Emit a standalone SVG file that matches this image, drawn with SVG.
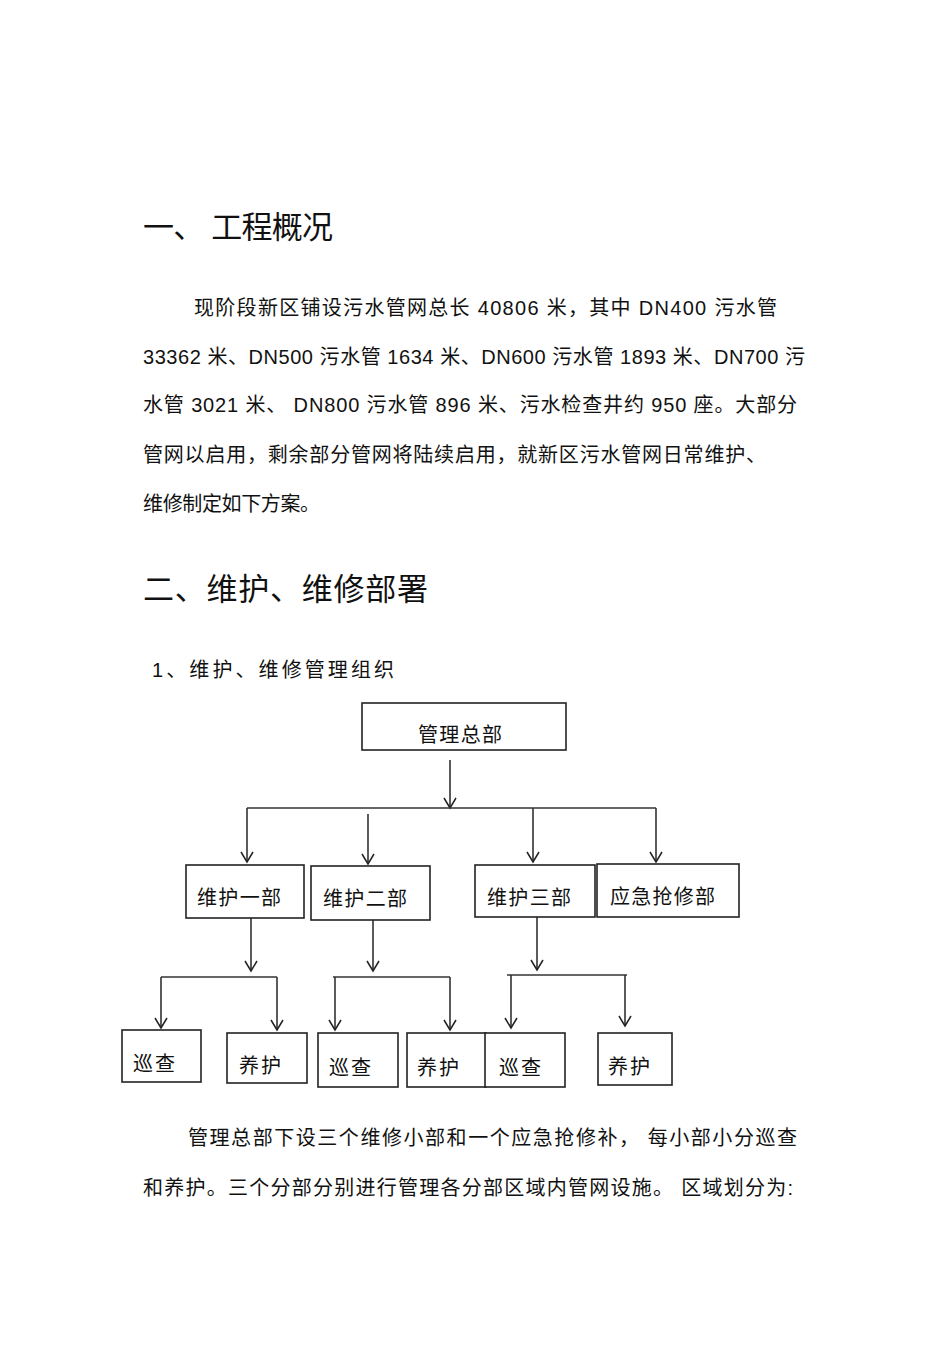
<svg xmlns="http://www.w3.org/2000/svg" width="950" height="1345" viewBox="0 0 950 1345">
<defs>
<marker id="ah" markerWidth="14" markerHeight="14" refX="7" refY="12" orient="0" markerUnits="userSpaceOnUse">
<path d="M1,2 L7,12 L13,2" fill="none" stroke="#222" stroke-width="1.5"/>
</marker>
<style>
text{font-family:"Liberation Sans","Noto Sans CJK SC",sans-serif;fill:#111}
.h{font-size:31px}
.b{font-size:20px}
.n{font-size:20px}
rect{fill:#fff;stroke:#222;stroke-width:1.6}
.c line{stroke:#333;stroke-width:1.6}
.c .a{marker-end:url(#ah)}
</style>
</defs>
<rect x="0" y="0" width="950" height="1345" style="stroke:none"/>
<text class="h" x="143" y="238" textLength="190" lengthAdjust="spacing">一、 工程概况</text>
<text class="b" x="194" y="315" textLength="583" lengthAdjust="spacing">现阶段新区铺设污水管网总长    40806 米，其中  DN400 污水管</text>
<text class="b" x="143" y="364" textLength="662" lengthAdjust="spacing">33362 米、DN500 污水管  1634 米、DN600 污水管  1893 米、DN700 污</text>
<text class="b" x="143" y="412" textLength="654" lengthAdjust="spacing">水管  3021 米、 DN800 污水管  896 米、污水检查井约   950 座。大部分</text>
<text class="b" x="143" y="462" textLength="623" lengthAdjust="spacing">管网以启用，剩余部分管网将陆续启用，就新区污水管网日常维护、</text>
<text class="b" x="143" y="511" textLength="177" lengthAdjust="spacing">维修制定如下方案。</text>
<text class="h" x="143" y="600" textLength="285" lengthAdjust="spacing">二、维护、维修部署</text>
<text class="b" x="152" y="677" textLength="242" lengthAdjust="spacing">1、维护、维修管理组织</text>
<g class="c">
<line class="a" x1="450" y1="760" x2="450" y2="808"/>
<line x1="247" y1="808" x2="656" y2="808"/>
<line class="a" x1="247" y1="808" x2="247" y2="862"/>
<line class="a" x1="368" y1="814" x2="368" y2="864"/>
<line class="a" x1="533" y1="808" x2="533" y2="862"/>
<line class="a" x1="656" y1="808" x2="656" y2="862"/>
<line class="a" x1="251" y1="918" x2="251" y2="971"/>
<line class="a" x1="373" y1="920" x2="373" y2="971"/>
<line class="a" x1="537" y1="917" x2="537" y2="970"/>
<line x1="161" y1="977" x2="277" y2="977"/>
<line class="a" x1="161" y1="977" x2="161" y2="1028"/>
<line class="a" x1="277" y1="977" x2="277" y2="1030"/>
<line x1="333" y1="977" x2="450" y2="977"/>
<line class="a" x1="335" y1="977" x2="335" y2="1030"/>
<line class="a" x1="450" y1="977" x2="450" y2="1030"/>
<line x1="507" y1="975" x2="627" y2="975"/>
<line class="a" x1="511" y1="975" x2="511" y2="1028"/>
<line class="a" x1="625" y1="975" x2="625" y2="1026"/>
</g>
<g id="n0"><rect x="362" y="703" width="204" height="47"/><text class="n" x="418" y="742" textLength="84" lengthAdjust="spacing">管理总部</text></g>
<g id="n1"><rect x="186" y="865" width="118" height="53"/><text class="n" x="197" y="905" textLength="84" lengthAdjust="spacing">维护一部</text></g>
<g id="n2"><rect x="311" y="866" width="119" height="54"/><text class="n" x="323" y="906" textLength="84" lengthAdjust="spacing">维护二部</text></g>
<g id="n3"><rect x="475" y="865" width="120" height="52"/><text class="n" x="487" y="905" textLength="84" lengthAdjust="spacing">维护三部</text></g>
<g id="n4"><rect x="597" y="864" width="142" height="53"/><text class="n" x="610" y="904" textLength="105" lengthAdjust="spacing">应急抢修部</text></g>
<g id="n5"><rect x="122" y="1030" width="79" height="52"/><text class="n" x="133" y="1071" textLength="42" lengthAdjust="spacing">巡查</text></g>
<g id="n6"><rect x="227" y="1033" width="80" height="50"/><text class="n" x="239" y="1073" textLength="42" lengthAdjust="spacing">养护</text></g>
<g id="n7"><rect x="318" y="1033" width="80" height="54"/><text class="n" x="329" y="1075" textLength="42" lengthAdjust="spacing">巡查</text></g>
<g id="n8"><rect x="407" y="1033" width="79" height="54"/><text class="n" x="417" y="1075" textLength="42" lengthAdjust="spacing">养护</text></g>
<g id="n9"><rect x="485" y="1033" width="80" height="54"/><text class="n" x="499" y="1075" textLength="42" lengthAdjust="spacing">巡查</text></g>
<g id="n10"><rect x="598" y="1033" width="74" height="52"/><text class="n" x="608" y="1074" textLength="42" lengthAdjust="spacing">养护</text></g>
<text class="b" x="188" y="1145" textLength="609" lengthAdjust="spacing">管理总部下设三个维修小部和一个应急抢修补，      每小部小分巡查</text>
<text class="b" x="143" y="1195" textLength="650" lengthAdjust="spacing">和养护。三个分部分别进行管理各分部区域内管网设施。    区域划分为:</text>
</svg>
